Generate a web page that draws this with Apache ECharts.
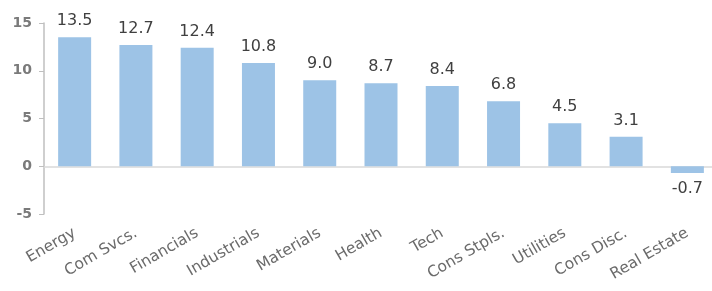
<!DOCTYPE html>
<html>
<head>
<meta charset="utf-8">
<script src="https://cdn.jsdelivr.net/npm/echarts@6/dist/echarts.min.js"></script>
<style>
  html, body { margin: 0; padding: 0; background: #fff; }
  #main { width: 712px; height: 291px; }
</style>
</head>
<body>
<div id="main"></div>
<script>
  // sectors and values
  var categories = ['Energy', 'Com Svcs.', 'Financials', 'Industrials', 'Materials', 'Health', 'Tech', 'Cons Stpls.', 'Utilities', 'Cons Disc.', 'Real Estate'];
  var values = [13.5, 12.7, 12.4, 10.8, 9.0, 8.7, 8.4, 6.8, 4.5, 3.1, -0.7];

  var font = 'DejaVu Sans';
  var chart = echarts.init(document.getElementById('main'));
  chart.setOption({
    animation: false,
    grid: { left: 44, right: -6, top: 23, bottom: 77, containLabel: false, outerBoundsMode: 'none' },
    xAxis: {
      type: 'category',
      data: categories,
      axisLine: { onZero: true, lineStyle: { color: '#d9d9d9', width: 1.5 } },
      axisTick: { show: false },
      axisLabel: {
        interval: 0,
        rotate: 30,
        color: '#6b6b6b',
        fontFamily: font,
        fontSize: 15.5,
        margin: 18
      }
    },
    yAxis: {
      type: 'value',
      min: -5,
      max: 15,
      interval: 5,
      splitLine: { show: false },
      axisLine: { show: true, lineStyle: { color: '#bfbfbf', width: 1.5 } },
      axisTick: { show: true, length: 5, lineStyle: { color: '#bfbfbf' } },
      axisLabel: {
        color: '#7a7a7a',
        fontFamily: font,
        fontWeight: 'bold',
        fontSize: 14,
        margin: 12
      }
    },
    series: [{
      type: 'bar',
      data: values.map(function (v) {
        return v < 0 ? { value: v, label: { position: 'bottom' } } : v;
      }),
      barWidth: 33,
      itemStyle: { color: '#9dc3e6' },
      label: {
        show: true,
        position: 'top',
        distance: 8,
        color: '#404040',
        fontFamily: font,
        fontSize: 16,
        formatter: function (p) { return p.value.toFixed(1); }
      }
    }]
  });
</script>
</body>
</html>
